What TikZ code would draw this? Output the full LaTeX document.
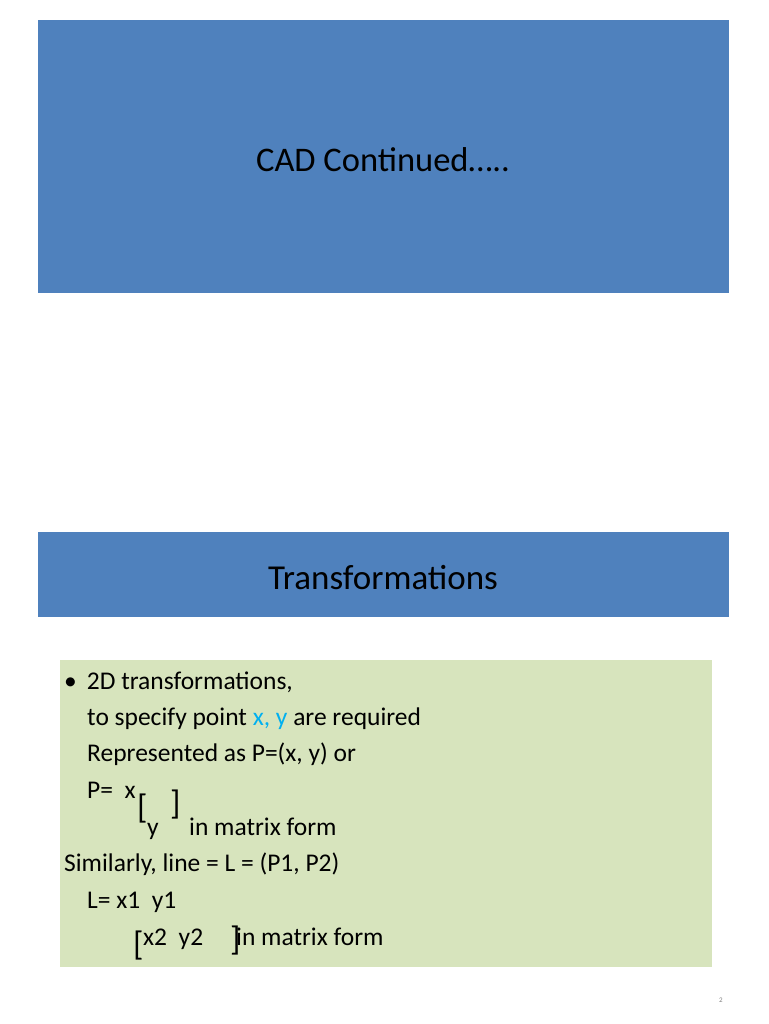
\documentclass[tikz,border=0pt]{standalone}
\usepackage{fontspec}
\setmainfont{Carlito}
\definecolor{hdr}{HTML}{4F81BD}
\definecolor{grn}{HTML}{D7E4BD}
\definecolor{xy}{HTML}{00B0F0}
\begin{document}
\begin{tikzpicture}[x=1pt,y=-1pt,
  txt/.style={anchor=base west,inner sep=0pt,font=\fontsize{25.5}{28}\selectfont},
  br/.style={anchor=base west,inner sep=0pt,font=\fontsize{34}{34}\selectfont}]
\useasboundingbox (0,0) rectangle (768,1024);
\fill[white] (0,0) rectangle (768,1024);
\fill[hdr] (38,20) rectangle (729,293);
\node[font=\fontsize{34.5}{38}\selectfont] (t1) at (383,160) {CAD Continued…..};
\fill[hdr] (38,532) rectangle (729,617);
\node[font=\fontsize{35}{38}\selectfont] (t2) at (383,578) {Transformations};
\fill[grn] (60,660) rectangle (712,967);
\node[txt] (l1) at (64,689) {•\hspace{10pt}2D transformations,};
\node[txt] (l2) at (87,725) {to specify point \textcolor{xy}{x, y} are required};
\node[txt] (l3) at (87,761) {Represented as P=(x, y) or};
\node[txt] (l4) at (87,798) {P=\ \ x};
\node[br] (b1) at (137,818) {[};
\node[br] (b2) at (170,814) {]};
\node[txt] (l5) at (147,835) {y};
\node[txt] (l5b) at (189,835) {in matrix form};
\node[txt] (l6) at (64,871) {Similarly, line = L = (P1, P2)};
\node[txt] (l7) at (87,908) {L= x1\ \ y1};
\node[txt] (l8) at (143,945) {x2\ \ y2};
\node[txt] (l8b) at (236,945) {in matrix form};
\node[br] (b3) at (133,955) {[};
\node[br] (b4) at (230,950) {]};
\node[font=\fontsize{7}{8}\selectfont,text=gray] (pg) at (721,1000) {2};
\end{tikzpicture}
\end{document}
